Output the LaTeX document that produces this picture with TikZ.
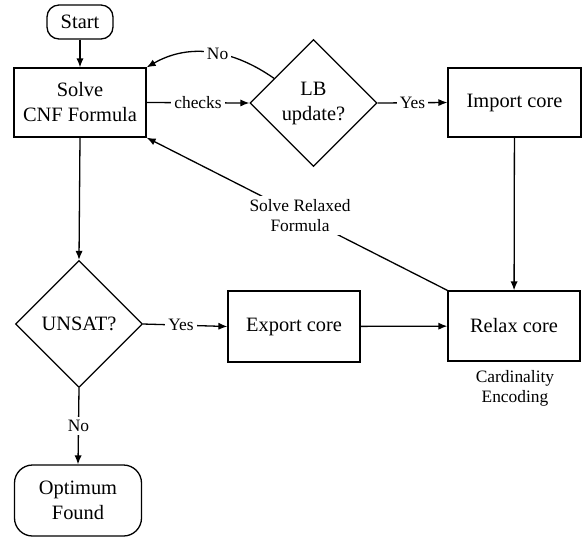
\documentclass[tikz,border=0pt]{standalone}
\usepackage{fontspec}
\setmainfont{LiberationSerif}[Extension=.ttf,UprightFont=*-Regular,BoldFont=*-Bold,ItalicFont=*-Italic]
\usetikzlibrary{shapes.geometric,arrows.meta}
\begin{document}
\begin{tikzpicture}[x=0.5pt,y=-0.5pt,
  line width=0.65pt,
  font=\rmfamily\fontsize{10.2}{12.5}\selectfont,
  box/.style={draw,rectangle,align=center,minimum width=66pt,minimum height=34.5pt,inner sep=1pt},
  term/.style={draw,rectangle,rounded corners=#1,align=center,inner sep=1pt},
  dec/.style={draw,diamond,aspect=1,align=center,inner sep=0pt,minimum width=63.5pt,minimum height=63.5pt},
  lbl/.style={fill=white,inner sep=1.5pt,align=center,font=\rmfamily\fontsize{8.7}{10}\selectfont},
  arr/.style={-{Latex[length=4.5pt,width=3.6pt]}}]
\useasboundingbox (0,0) rectangle (582,538);
\node[term=6pt,minimum width=33pt,minimum height=17pt] (start) at (80,22) {Start};
\node[box] (solve) at (80,102.5) {Solve\\CNF Formula};
\node[dec] (lb) at (313.5,103) {LB\\update?};
\node[box,minimum width=66.5pt] (import) at (514.5,102.5) {Import core};
\node[dec] (unsat) at (79,324) {UNSAT?};
\node[box,minimum height=35.5pt] (export) at (294,326.5) {Export core};
\node[box,minimum height=35pt] (relax) at (514,326) {Relax core};
\node[term=9pt,minimum width=63.5pt,minimum height=35.5pt] (opt) at (78,500.5) {Optimum\\Found};
\node[lbl,fill=none] (card) at (515,388) {Cardinality\\Encoding};

\draw[arr] (start) -- (solve);
\draw[arr] (solve.east) -- node[lbl]{checks} (lb.west);
\draw[arr] (lb.east) -- node[lbl]{Yes} (import.west);
\draw[arr] (import) -- (relax);
\draw[arr] (relax.north west) -- node[lbl,pos=0.49]{Solve Relaxed\\Formula} (solve.south east);
\draw[arr] (lb.148) to[out=145,in=30] node[lbl,pos=0.45]{No} (solve.north east);
\draw[arr] (solve.south) -- (unsat.north);
\draw[arr] (unsat.east) -- node[lbl,pos=0.45]{Yes} (export.west);
\draw[arr] (export) -- (relax);
\draw[arr] (unsat.south) -- node[lbl]{No} (opt.north);
\end{tikzpicture}
\end{document}
